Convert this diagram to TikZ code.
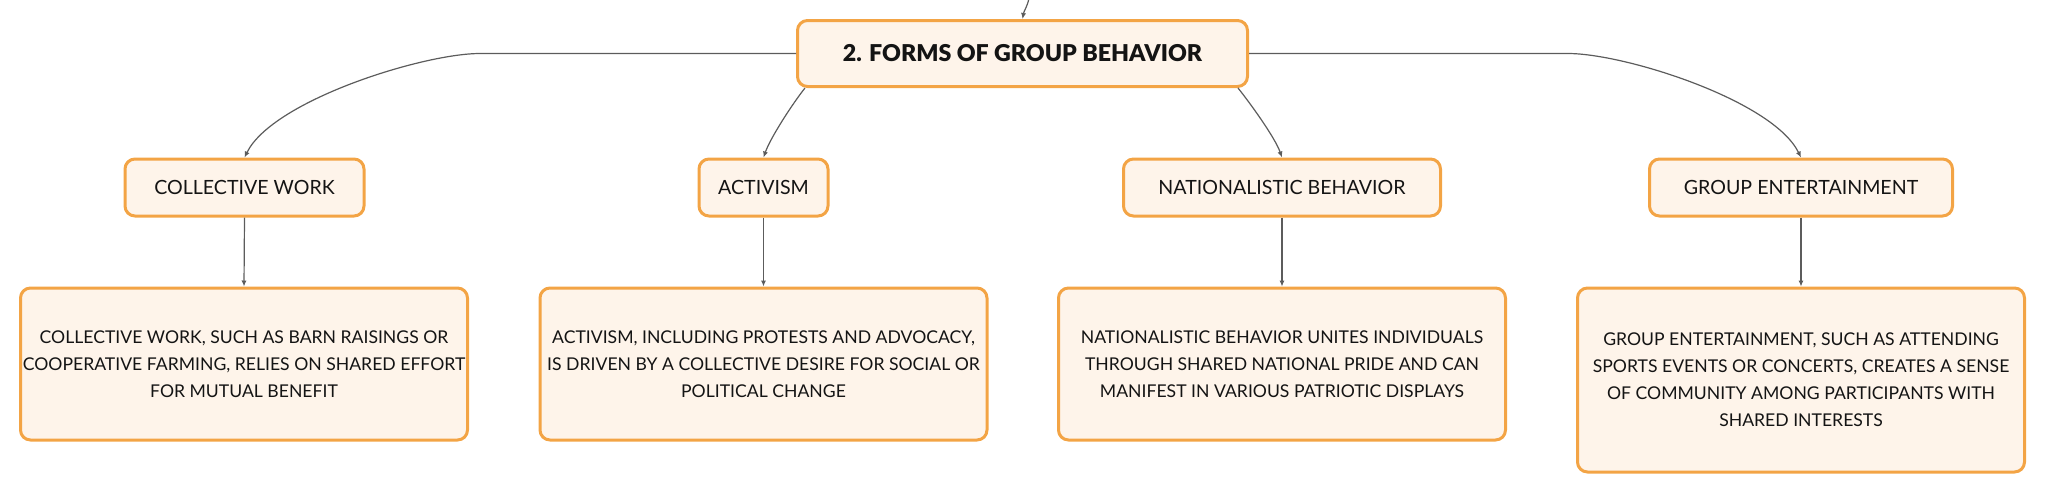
\documentclass[tikz,border=0pt]{standalone}
\usepackage{fontspec}
\setmainfont{Lato}
\newfontfamily\heavyfont{Lato Black}
\usetikzlibrary{arrows.meta}
\definecolor{boxorange}{HTML}{F3A445}
\definecolor{boxfill}{HTML}{FEF4EA}
\definecolor{linkgray}{HTML}{5C5C5C}
\definecolor{ink}{HTML}{141414}
\tikzset{
  topic/.style={draw=boxorange, fill=boxfill, line width=1.5pt, rounded corners=5pt,
    align=center, inner sep=0pt, text=ink},
  maintopic/.style={topic, minimum width=225pt, minimum height=33pt,
    font=\fontsize{11.6}{14}\selectfont\heavyfont},
  subtopic/.style={topic, minimum height=28.5pt, font=\fontsize{9.8}{12}\selectfont},
  detail/.style={topic, minimum width=223.5pt, minimum height=76pt,
    font=\fontsize{8.8}{13.5}\selectfont},
  link/.style={draw=linkgray, line width=0.6pt, -{Latex[length=3pt, width=2.6pt]}}
}
\begin{document}
\begin{tikzpicture}[x=0.5pt, y=-0.5pt]
  \useasboundingbox (0,0) rectangle (2046,494);

  % Hauptknoten
  \node[maintopic] (forms) at (1022.5,53.5) {2. FORMS OF GROUP BEHAVIOR};
  \coordinate (incoming) at (1029,-2);
  \draw[link] (incoming) to[out=-100, in=80] (forms.north);

  % Unterthemen
  \node[subtopic, minimum width=119.5pt] (work) at (244.5,187.5) {COLLECTIVE WORK};
  \node[subtopic, minimum width=64.5pt] (activism) at (763.5,187.5) {ACTIVISM};
  \node[subtopic, minimum width=158.5pt] (nation) at (1282,187.5) {NATIONALISTIC BEHAVIOR};
  \node[subtopic, minimum width=151.5pt] (fun) at (1801,187.5) {GROUP ENTERTAINMENT};

  % Beschreibungen
  \node[detail] (work-text) at (244,364) {COLLECTIVE WORK, SUCH AS BARN RAISINGS OR\\
    COOPERATIVE FARMING, RELIES ON SHARED EFFORT\\ FOR MUTUAL BENEFIT};
  \node[detail] (activism-text) at (763.5,364) {ACTIVISM, INCLUDING PROTESTS AND ADVOCACY,\\
    IS DRIVEN BY A COLLECTIVE DESIRE FOR SOCIAL OR\\ POLITICAL CHANGE};
  \node[detail] (nation-text) at (1282,364) {NATIONALISTIC BEHAVIOR UNITES INDIVIDUALS\\
    THROUGH SHARED NATIONAL PRIDE AND CAN\\ MANIFEST IN VARIOUS PATRIOTIC DISPLAYS};
  \node[detail, minimum height=92pt] (fun-text) at (1801,380) {GROUP ENTERTAINMENT, SUCH AS ATTENDING\\
    SPORTS EVENTS OR CONCERTS, CREATES A SENSE\\ OF COMMUNITY AMONG PARTICIPANTS WITH\\ SHARED INTERESTS};

  % Verbindungen
  \coordinate (bend-left) at (480,53.5);
  \coordinate (bend-right) at (1568,53.5);
  \draw[link] (forms.west) -- (bend-left) .. controls +(-57,0) and +(28,-57) .. (work.north);
  \draw[link] ([xshift=4.5pt]forms.south west) .. controls +(-12,15) and +(7,-20) .. (activism.north);
  \draw[link] ([xshift=-5.5pt]forms.south east) .. controls +(12,15) and +(-7,-20) .. (nation.north);
  \draw[link] (forms.east) -- (bend-right) .. controls +(57,0) and +(-28,-57) .. (fun.north);
  \foreach \n in {work, activism, nation, fun}{
    \draw[link] (\n.south) -- (\n-text.north);}
\end{tikzpicture}
\end{document}
